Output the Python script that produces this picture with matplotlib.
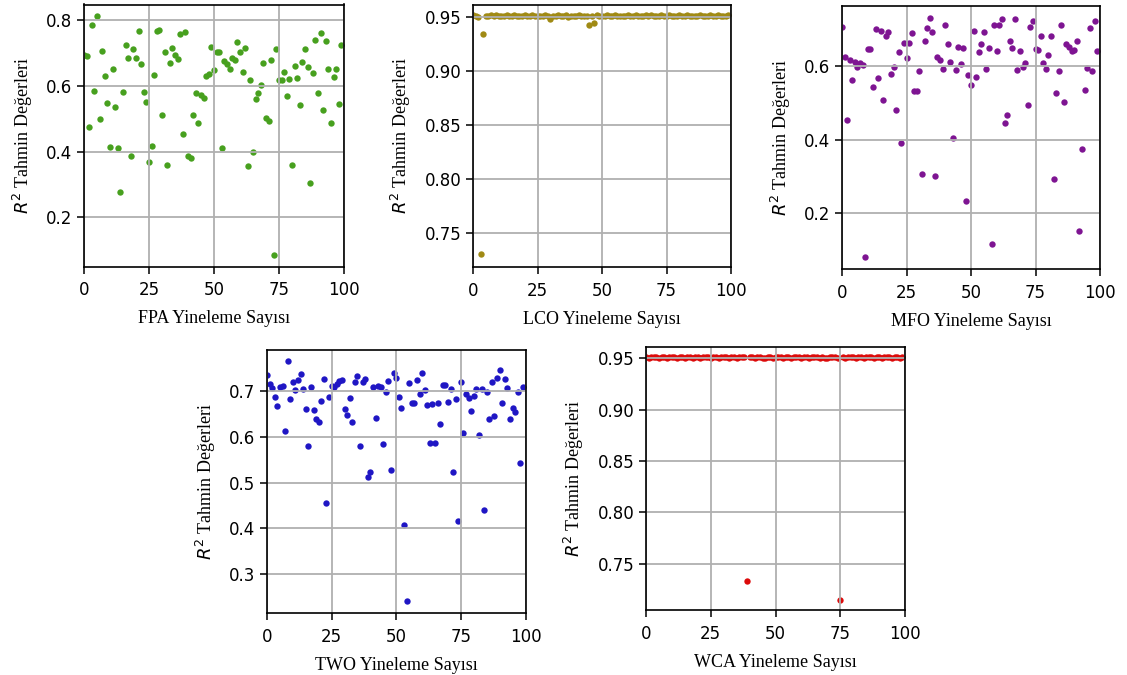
import matplotlib
matplotlib.use("Agg")
import matplotlib.pyplot as plt
import numpy as np

# iteration index 0..99 for every algorithm
iters = np.arange(100)

fpa_r2 = [0.695, 0.690, 0.474, 0.785, 0.583, 0.813, 0.500, 0.706, 0.629, 0.548,
          0.414, 0.651, 0.535, 0.410, 0.277, 0.581, 0.723, 0.683, 0.388, 0.713,
          0.683, 0.765, 0.667, 0.581, 0.550, 0.367, 0.416, 0.632, 0.765, 0.770,
          0.510, 0.703, 0.360, 0.668, 0.715, 0.694, 0.680, 0.756, 0.452, 0.764,
          0.385, 0.381, 0.511, 0.579, 0.488, 0.571, 0.562, 0.631, 0.636, 0.718,
          0.647, 0.703, 0.704, 0.412, 0.675, 0.666, 0.651, 0.685, 0.679, 0.733,
          0.703, 0.643, 0.715, 0.357, 0.619, 0.398, 0.561, 0.579, 0.602, 0.670,
          0.502, 0.493, 0.677, 0.085, 0.711, 0.618, 0.619, 0.642, 0.569, 0.620,
          0.359, 0.660, 0.624, 0.543, 0.673, 0.711, 0.657, 0.304, 0.640, 0.739,
          0.579, 0.759, 0.526, 0.737, 0.651, 0.486, 0.628, 0.650, 0.544, 0.723]

lco_r2 = [0.9512, 0.9508, 0.9497, 0.7300, 0.9340, 0.9510, 0.9507, 0.9513, 0.9509, 0.9511,
          0.9506, 0.9510, 0.9508, 0.9512, 0.9507, 0.9509, 0.9511, 0.9506, 0.9510, 0.9508,
          0.9512, 0.9509, 0.9507, 0.9511, 0.9508, 0.9510, 0.9506, 0.9509, 0.9511, 0.9507,
          0.9478, 0.9510, 0.9508, 0.9512, 0.9506, 0.9509, 0.9511, 0.9495, 0.9508, 0.9510,
          0.9507, 0.9511, 0.9509, 0.9506, 0.9510, 0.9423, 0.9508, 0.9437, 0.9511, 0.9509,
          0.9507, 0.9510, 0.9512, 0.9508, 0.9506, 0.9511, 0.9509, 0.9507, 0.9510, 0.9508,
          0.9512, 0.9506, 0.9509, 0.9511, 0.9507, 0.9510, 0.9508, 0.9518, 0.9509, 0.9511,
          0.9506, 0.9510, 0.9508, 0.9512, 0.9507, 0.9509, 0.9511, 0.9506, 0.9510, 0.9508,
          0.9512, 0.9509, 0.9507, 0.9511, 0.9508, 0.9510, 0.9506, 0.9509, 0.9511, 0.9507,
          0.9510, 0.9508, 0.9512, 0.9506, 0.9509, 0.9511, 0.9507, 0.9510, 0.9508, 0.9512]

mfo_r2 = [0.707, 0.625, 0.452, 0.616, 0.561, 0.612, 0.596, 0.607, 0.603, 0.080,
          0.645, 0.647, 0.542, 0.700, 0.566, 0.694, 0.507, 0.682, 0.693, 0.578,
          0.598, 0.480, 0.639, 0.390, 0.663, 0.621, 0.663, 0.689, 0.533, 0.531,
          0.585, 0.305, 0.668, 0.704, 0.730, 0.691, 0.300, 0.623, 0.615, 0.593,
          0.711, 0.660, 0.612, 0.405, 0.589, 0.651, 0.606, 0.648, 0.233, 0.576,
          0.548, 0.694, 0.570, 0.638, 0.661, 0.691, 0.591, 0.650, 0.116, 0.710,
          0.642, 0.711, 0.728, 0.444, 0.467, 0.669, 0.649, 0.728, 0.589, 0.642,
          0.598, 0.608, 0.494, 0.707, 0.721, 0.647, 0.644, 0.681, 0.609, 0.593,
          0.630, 0.682, 0.294, 0.527, 0.585, 0.711, 0.502, 0.659, 0.651, 0.642,
          0.643, 0.669, 0.150, 0.374, 0.534, 0.595, 0.703, 0.586, 0.723, 0.641]

two_r2 = [0.735, 0.716, 0.707, 0.687, 0.668, 0.708, 0.711, 0.612, 0.765, 0.682,
          0.721, 0.703, 0.724, 0.738, 0.704, 0.660, 0.579, 0.708, 0.658, 0.638,
          0.632, 0.679, 0.726, 0.455, 0.688, 0.712, 0.710, 0.716, 0.722, 0.724,
          0.662, 0.647, 0.686, 0.632, 0.720, 0.733, 0.581, 0.720, 0.726, 0.513,
          0.523, 0.708, 0.641, 0.711, 0.710, 0.585, 0.699, 0.723, 0.527, 0.739,
          0.729, 0.688, 0.664, 0.407, 0.241, 0.718, 0.674, 0.674, 0.724, 0.694,
          0.740, 0.703, 0.670, 0.586, 0.671, 0.587, 0.675, 0.629, 0.714, 0.714,
          0.676, 0.705, 0.523, 0.683, 0.416, 0.719, 0.608, 0.693, 0.685, 0.657,
          0.690, 0.704, 0.604, 0.704, 0.441, 0.698, 0.638, 0.719, 0.645, 0.729,
          0.747, 0.675, 0.726, 0.706, 0.640, 0.663, 0.654, 0.699, 0.543, 0.708]

wca_r2 = [0.9510, 0.9507, 0.9511, 0.9508, 0.9512, 0.9506, 0.9509, 0.9511, 0.9507, 0.9510,
          0.9508, 0.9512, 0.9506, 0.9509, 0.9511, 0.9507, 0.9510, 0.9508, 0.9503, 0.9509,
          0.9511, 0.9507, 0.9510, 0.9508, 0.9512, 0.9506, 0.9509, 0.9511, 0.9507, 0.9510,
          0.9508, 0.9512, 0.9506, 0.9509, 0.9511, 0.9507, 0.9510, 0.9508, 0.9512, 0.7330,
          0.9509, 0.9511, 0.9507, 0.9510, 0.9508, 0.9502, 0.9506, 0.9509, 0.9511, 0.9507,
          0.9510, 0.9508, 0.9512, 0.9506, 0.9509, 0.9511, 0.9507, 0.9510, 0.9508, 0.9512,
          0.9506, 0.9509, 0.9511, 0.9507, 0.9510, 0.9508, 0.9512, 0.9506, 0.9509, 0.9503,
          0.9507, 0.9510, 0.9508, 0.9512, 0.9506, 0.7150, 0.9511, 0.9507, 0.9510, 0.9508,
          0.9512, 0.9506, 0.9509, 0.9511, 0.9507, 0.9510, 0.9508, 0.9512, 0.9506, 0.9509,
          0.9511, 0.9507, 0.9510, 0.9508, 0.9512, 0.9506, 0.9509, 0.9511, 0.9507, 0.9510]

algos = ["FPA", "LCO", "MFO", "TWO", "WCA"]
series = [fpa_r2, lco_r2, mfo_r2, two_r2, wca_r2]
colors = ["#47a01e", "#a08a14", "#7e1492", "#1f16c4", "#dc0a0a"]

W, H = 1127, 675
# axes boxes in pixels: left, right, top, bottom
boxes = [(84, 344, 4.5, 266.7),
         (473, 731, 4.7, 267.3),
         (842, 1100, 6, 269),
         (267, 525.5, 350, 613.3),
         (646, 905, 347, 610)]
ylims = [(0.050, 0.847), (0.718, 0.961), (0.048, 0.763), (0.214, 0.790), (0.705, 0.961)]

plt.rcParams['mathtext.fontset'] = 'dejavusans'
fig = plt.figure(figsize=(W / 100, H / 100), dpi=100)

label_font = dict(family="Liberation Serif", size=13)

for name, vals, col, box, yl in zip(algos, series, colors, boxes, ylims):
    l, r, t, b = box
    ax = fig.add_axes([l / W, 1 - b / H, (r - l) / W, (b - t) / H])
    ax.scatter(iters, vals, s=21, color=col, linewidths=0)
    ax.set_xlim(0, 100)
    ax.set_ylim(*yl)
    ax.set_xticks([0, 25, 50, 75, 100])
    ax.grid(True, color="#b0b0b0", linewidth=1.3)
    ax.tick_params(labelsize=12, length=5, width=1.1)
    ax.tick_params(axis="x", pad=5.5)
    for sp in ax.spines.values():
        sp.set_linewidth(1.2)
    ax.set_xlabel(f"{name} Yineleme Sayısı", fontdict=label_font, labelpad=8)
    ax.set_ylabel(r"$R^2$ Tahmin Değerleri", fontdict=label_font, labelpad=8)

fig.savefig("out.png", dpi=100)
